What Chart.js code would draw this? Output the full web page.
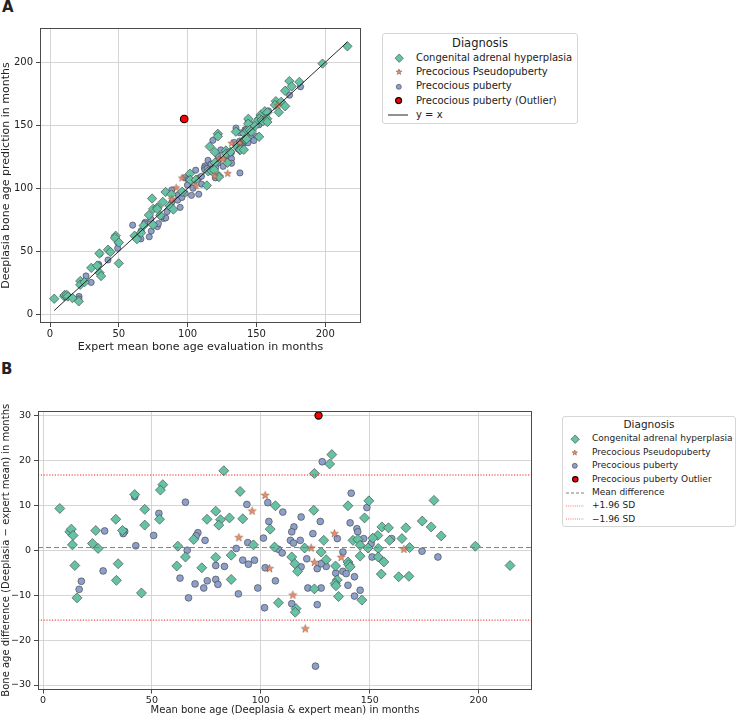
<!DOCTYPE html>
<html><head><meta charset="utf-8">
<script src="https://cdn.jsdelivr.net/npm/chart.js@4/dist/chart.umd.min.js"></script>
<style>
html,body{margin:0;padding:0;background:#fff;}
body{width:738px;height:717px;position:relative;overflow:hidden;font-family:"DejaVu Sans",sans-serif;color:#222;}
#wa{position:absolute;left:0;top:0;width:370px;height:358px;}
#wb{position:absolute;left:0;top:380px;width:545px;height:337px;}
.plabel{position:absolute;font-weight:bold;font-size:15px;line-height:15px;}
.leg{position:absolute;background:#fff;border:1px solid #d6d6d6;border-radius:3px;box-sizing:border-box;}
.leg .t{position:absolute;left:0;right:0;text-align:center;white-space:nowrap;}
.leg .r{position:absolute;white-space:nowrap;}
.leg svg{position:absolute;overflow:visible;}
</style></head>
<body>
<div class="plabel" style="left:2px;top:0px;">A</div>
<div class="plabel" style="left:1px;top:362px;">B</div>
<div id="wa"><canvas id="ca" width="370" height="358"></canvas></div>
<div id="wb"><canvas id="cb" width="545" height="337"></canvas></div>

<div class="leg" id="legA" style="left:382px;top:33px;width:196px;height:91px;"></div>
<div class="leg" id="legB" style="left:562px;top:416px;width:174px;height:111px;"></div>

<script>
// ---------- data (panel B: mean of both, difference) ----------
const cahMean = [7.7,12.3,13.0,13.8,13.5,14.6,15.6,24.2,22.7,25.3,33.4,34.5,33.7,36.5,42.1,46.7,46.7,45.2,
55.0,53.9,53.5,83.0,61.9,61.4,65.4,69.2,75.3,79.3,81.5,80.7,85.6,79.3,72.9,86.4,86.4,
90.5,91.7,96.6,106.7,104.3,106.3,108.1,
132.6,131.6,124.6,124.3,128.9,120.1,127.7,114.2,115.6,116.9,130.0,134.3,135.1,134.1,134.5,124.6,135.7,116.2,115.8,
149.6,140.0,147.6,155.6,158.6,153.7,151.4,159.1,142.3,144.6,145.6,149.2,153.9,145.6,153.9,156.5,140.0,140.4,141.0,155.3,163.3,146.4,
179.5,174.1,178.2,182.8,166.6,164.8,168.3,198.5,168.0,214.4];
const cahDiff = [9.3,4.1,4.7,3.3,1.2,-3.4,-10.6,4.4,1.5,0.4,6.9,-3.0,-6.7,4.4,12.4,9.1,5.6,-9.5,
14.6,13.4,6.9,17.7,0.9,-3.5,-1.5,2.4,6.9,8.7,6.8,5.6,7.2,-1.6,-3.9,-1.1,-6.5,
13.1,7.0,1.2,9.9,4.7,0.7,-11.7,
21.3,19.2,17.1,8.9,2.2,0.5,-0.4,-1.5,-3.0,-4.7,-2.1,-3.5,-6.6,-7.4,-7.9,-8.6,-10.3,-13.0,-13.8,
11.0,9.9,7.2,5.2,5.0,3.3,2.7,2.2,2.2,2.4,1.1,0.5,0.4,-1.3,-1.5,-2.6,-2.6,-3.2,-3.7,-5.3,-5.9,-11.1,
11.1,6.5,5.2,3.2,5.0,2.6,0.6,0.9,-5.8,-3.4];

const ppsMean = [102.0,96.0,89.9,104.0,133.8,123.1,136.9,124.6,114.7,120.4,165.7];
const ppsDiff = [12.2,8.7,2.8,-4.1,3.7,0.5,-1.6,-2.7,-10.0,-17.5,0.2];

const cppMean = [28.3,37.5,36.8,42.1,42.6,27.6,17.6,16.6,
65.4,53.2,50.8,71.1,70.3,74.4,66.2,62.9,66.8,69.8,73.8,75.4,79.3,80.3,79.3,83.3,
93.6,103.2,110.1,103.7,101.2,94.0,88.7,91.7,94.3,97.1,102.0,108.1,109.8,106.7,98.6,89.7,101.7,
128.2,118.5,127.3,115.2,114.2,113.6,118.1,123.9,135.1,121.1,125.9,130.0,127.7,118.5,134.4,137.7,137.7,121.6,127.7,114.2,125.9,125.1,115.0,
141.5,148.7,141.0,144.1,144.5,147.2,150.7,151.1,139.2,143.0,140.0,145.6,143.0,160.1,
174.0,181.3];
const cppDiff = [4.3,4.2,3.7,11.9,1.0,-4.6,-6.9,-8.7,
10.7,8.2,3.3,3.9,3.2,2.2,0.0,-6.2,-10.6,-7.5,-8.4,-6.8,-6.5,-7.6,-3.4,-3.6,
10.2,10.6,8.5,6.4,2.7,1.7,0.4,-2.2,-3.1,-2.2,-3.9,0.2,-0.6,-6.8,-8.4,-9.7,-12.8,
19.7,7.4,6.4,5.2,4.1,2.2,2.2,3.7,2.6,-1.9,-4.1,-3.6,-3.0,-3.7,-5.1,-0.4,-4.7,-8.4,-8.4,-11.9,-12.1,-25.8,1.6,
12.7,9.5,6.1,4.8,4.1,2.6,1.5,-1.5,-5.2,-5.9,-7.8,-8.9,-10.2,2.6,
-0.2,-1.5];

// outlier
const outlierExpert = [97.5];
const outlierPred = [155.0];
const outlierMeanB = [126.5];
const outlierDiffB = [30.0];   // shown capped at the top of panel B

// reference lines
const identityEnds = [3, 216];
const meanDifference = 0.6;
const upperLimit = 16.75;
const lowerLimit = -15.55;

// axis ranges and ticks
const axisA = {xMin:-7.3, xMax:226, yMin:-6.9, yMax:227.2, step:50};
const axisB = {xMin:-2.3, xMax:224.5, yMin:-31, yMax:31, xStep:50, yStep:10};

const catNames = ['Congenital adrenal hyperplasia','Precocious Pseudopuberty','Precocious puberty'];
const COL = {cah:'#66c2a5', pps:'#fc8d62', cpp:'#8da0cb', out:'#ff0000', edge:'#3c3c3c'};

// ---------- helpers ----------
function toB(m, d){ return m.map((v,i)=>({x:v, y:d[i]})); }
function toA(m, d){ return m.map((v,i)=>({x:v - d[i]/2, y:v + d[i]/2})); }

function starCanvas(R, fill, stroke, lw){
  const s = 2*Math.ceil(R)+3;
  const c = document.createElement('canvas'); c.width = s; c.height = s;
  const g = c.getContext('2d');
  const cx = s/2, cy = s/2, r2 = R*0.382;
  g.beginPath();
  for(let k=0;k<10;k++){
    const r = k%2===0 ? R : r2;
    const a = -Math.PI/2 + k*Math.PI/5;
    const px = cx + r*Math.cos(a), py = cy + r*Math.sin(a);
    k===0 ? g.moveTo(px,py) : g.lineTo(px,py);
  }
  g.closePath();
  g.fillStyle = fill; g.fill();
  g.lineWidth = lw; g.strokeStyle = stroke; g.stroke();
  return c;
}

const framePlugin = {
  id:'frame',
  afterDraw(chart){
    const a = chart.chartArea, ctx = chart.ctx;
    ctx.save();
    ctx.strokeStyle = '#4a4a4a'; ctx.lineWidth = 1;
    ctx.strokeRect(Math.round(a.left)+0.5, Math.round(a.top)+0.5, Math.round(a.right-a.left)-1, Math.round(a.bottom-a.top)-1);
    ctx.restore();
  }
};

function scaleOpts(min, max, step, title, fontT, fontL, isY, size, titlePad){
  return {
    type:'linear', min:min, max:max,
    afterFit(s){ if(isY) s.width = size; else s.height = size; },
    ticks:{stepSize:step, includeBounds:false, color:'#222', padding: isY?3:1,
      font:{family:'DejaVu Sans', size:fontT},
      callback:(v)=> (v<0 ? '\u2212'+Math.abs(v) : ''+v)},
    grid:{color:'#d0d0d0', lineWidth:0.9, tickLength:4, tickColor:'#333', drawTicks:true},
    border:{display:false},
    title:{display:true, text:title, color:'#222', font:{family:'DejaVu Sans', size:fontL}, padding:titlePad}
  };
}

// ---------- Panel A ----------
const starA = starCanvas(3.8, COL.pps, '#6a4a3a', 0.5);
new Chart(document.getElementById('ca'), {
  type:'scatter',
  data:{datasets:[
    {label:'y = x', data:identityEnds.map(v=>({x:v,y:v})), showLine:true, borderColor:'#111', borderWidth:0.9, pointRadius:0, order:0},
    {label:'Precocious puberty (Outlier)', data:outlierExpert.map((v,i)=>({x:v,y:outlierPred[i]})), pointStyle:'circle', pointRadius:3.8, backgroundColor:COL.out, borderColor:'#000', borderWidth:1.1, order:1},
    {label:catNames[1], data:toA(ppsMean, ppsDiff), pointStyle:starA, pointRadius:3.8, order:2},
    {label:catNames[0], data:toA(cahMean, cahDiff), pointStyle:'rectRot', pointRadius:4.7, backgroundColor:COL.cah, borderColor:COL.edge, borderWidth:0.6, order:3},
    {label:catNames[2], data:toA(cppMean, cppDiff), pointStyle:'circle', pointRadius:3.1, backgroundColor:COL.cpp, borderColor:COL.edge, borderWidth:0.6, order:4}
  ]},
  options:{
    responsive:false, animation:false, events:[],
    layout:{padding:{top:28, right:9, left:0, bottom:0}},
    plugins:{legend:{display:false}, tooltip:{enabled:false}},
    scales:{
      x: scaleOpts(axisA.xMin, axisA.xMax, axisA.step, 'Expert mean bone age evaluation in months', 10, 11, false, 35, {top:0,bottom:4}),
      y: scaleOpts(axisA.yMin, axisA.yMax, axisA.step, 'Deeplasia bone age prediction in months', 10, 11, true, 40, {top:0,bottom:0})
    }
  },
  plugins:[framePlugin]
});

// ---------- Panel B ----------
const starB = starCanvas(4.2, COL.pps, '#6a4a3a', 0.5);
new Chart(document.getElementById('cb'), {
  type:'scatter',
  data:{datasets:[
    {label:'Mean difference', data:[{x:axisB.xMin,y:meanDifference},{x:axisB.xMax,y:meanDifference}], showLine:true, borderColor:'#808080', borderWidth:1, borderDash:[5,3], pointRadius:0, order:0},
    {label:'+1.96 SD', data:[{x:axisB.xMin,y:upperLimit},{x:axisB.xMax,y:upperLimit}], showLine:true, borderColor:'#ee2020', borderWidth:1, borderDash:[1.2,1.6], pointRadius:0, order:0},
    {label:'\u22121.96 SD', data:[{x:axisB.xMin,y:lowerLimit},{x:axisB.xMax,y:lowerLimit}], showLine:true, borderColor:'#ee2020', borderWidth:1, borderDash:[1.2,1.6], pointRadius:0, order:0},
    {label:'Precocious puberty Outlier', data:toB(outlierMeanB, outlierDiffB), pointStyle:'circle', pointRadius:3.6, backgroundColor:COL.out, borderColor:'#000', borderWidth:1.1, order:1},
    {label:catNames[1], data:toB(ppsMean, ppsDiff), pointStyle:starB, pointRadius:4.2, order:2},
    {label:catNames[0], data:toB(cahMean, cahDiff), pointStyle:'rectRot', pointRadius:5, backgroundColor:COL.cah, borderColor:COL.edge, borderWidth:0.6, order:3},
    {label:catNames[2], data:toB(cppMean, cppDiff), pointStyle:'circle', pointRadius:3.4, backgroundColor:COL.cpp, borderColor:COL.edge, borderWidth:0.6, order:4}
  ]},
  options:{
    responsive:false, animation:false, events:[],
    layout:{padding:{top:31, right:13, left:0, bottom:0}},
    plugins:{legend:{display:false}, tooltip:{enabled:false}},
    scales:{
      x: scaleOpts(axisB.xMin, axisB.xMax, axisB.xStep, 'Mean bone age (Deeplasia & expert mean) in months', 9.5, 10, false, 27.5, {top:0,bottom:1}),
      y: scaleOpts(axisB.yMin, axisB.yMax, axisB.yStep, 'Bone age difference (Deeplasia \u2212 expert mean) in months', 9.5, 10, true, 38, {top:0,bottom:0})
    }
  },
  plugins:[framePlugin]
});

// ---------- HTML legends ----------
function markerSVG(kind, cx, cy, s){
  const e = COL.edge;
  if(kind==='diamond') return `<svg style="left:${cx-s}px;top:${cy-s}px" width="${2*s}" height="${2*s}"><polygon points="${s},0 ${2*s},${s} ${s},${2*s} 0,${s}" fill="${COL.cah}" stroke="${e}" stroke-width="0.6"/></svg>`;
  if(kind==='circle') return `<svg style="left:${cx-s}px;top:${cy-s}px" width="${2*s}" height="${2*s}"><circle cx="${s}" cy="${s}" r="${s-0.3}" fill="${COL.cpp}" stroke="${e}" stroke-width="0.6"/></svg>`;
  if(kind==='out') return `<svg style="left:${cx-s}px;top:${cy-s}px" width="${2*s}" height="${2*s}"><circle cx="${s}" cy="${s}" r="${s-0.6}" fill="${COL.out}" stroke="#000" stroke-width="1.1"/></svg>`;
  if(kind==='star'){
    let pts=[]; for(let k=0;k<10;k++){const r=k%2===0?s:s*0.382; const a=-Math.PI/2+k*Math.PI/5; pts.push((s+r*Math.cos(a)).toFixed(2)+','+(s+r*Math.sin(a)).toFixed(2));}
    return `<svg style="left:${cx-s}px;top:${cy-s}px" width="${2*s}" height="${2*s}"><polygon points="${pts.join(' ')}" fill="${COL.pps}" stroke="#6a4a3a" stroke-width="0.5"/></svg>`;
  }
  return '';
}
function lineSVG(x1, x2, cy, color, dash, w){
  return `<svg style="left:${x1}px;top:${cy-2}px" width="${x2-x1}" height="4"><line x1="0" y1="2" x2="${x2-x1}" y2="2" stroke="${color}" stroke-width="${w}" ${dash?`stroke-dasharray="${dash}"`:''}/></svg>`;
}
function buildLegend(el, cfg){
  let h = `<div class="t" style="top:${cfg.titleY - cfg.titleSize*0.62}px;font-size:${cfg.titleSize}px;line-height:${cfg.titleSize*1.24}px;">Diagnosis</div>`;
  cfg.items.forEach((it,i)=>{
    const cy = cfg.y0 + i*cfg.dy;
    if(it.kind==='line') h += lineSVG(cfg.lx1, cfg.lx2, cy, it.color, it.dash, it.w);
    else h += markerSVG(it.kind, cfg.mx, cy, it.s);
    h += `<div class="r" style="left:${cfg.tx}px;top:${cy - cfg.fs*0.62}px;font-size:${cfg.fs}px;line-height:${cfg.fs*1.24}px;">${it.label}</div>`;
  });
  el.innerHTML = h;
}
buildLegend(document.getElementById('legA'), {
  titleY:9, titleSize:11.5, y0:24, dy:14.3, fs:10, tx:33, mx:16, lx1:5, lx2:25,
  items:[
    {kind:'diamond', s:4.2, label:catNames[0]},
    {kind:'star', s:3, label:catNames[1]},
    {kind:'circle', s:2.8, label:catNames[2]},
    {kind:'out', s:3.6, label:'Precocious puberty (Outlier)'},
    {kind:'line', color:'#222', w:1, label:'y = x'}
  ]
});
buildLegend(document.getElementById('legB'), {
  titleY:8, titleSize:10.5, y0:22, dy:13.4, fs:9, tx:29, mx:12, lx1:3, lx2:21,
  items:[
    {kind:'diamond', s:4.2, label:catNames[0]},
    {kind:'star', s:2.8, label:catNames[1]},
    {kind:'circle', s:2.8, label:catNames[2]},
    {kind:'out', s:3.3, label:'Precocious puberty Outlier'},
    {kind:'line', color:'#808080', dash:'3,2', w:1, label:'Mean difference'},
    {kind:'line', color:'#ff6b6b', dash:'1,1.2', w:1, label:'+1.96 SD'},
    {kind:'line', color:'#ff6b6b', dash:'1,1.2', w:1, label:'\u22121.96 SD'}
  ]
});
</script>
</body></html>
